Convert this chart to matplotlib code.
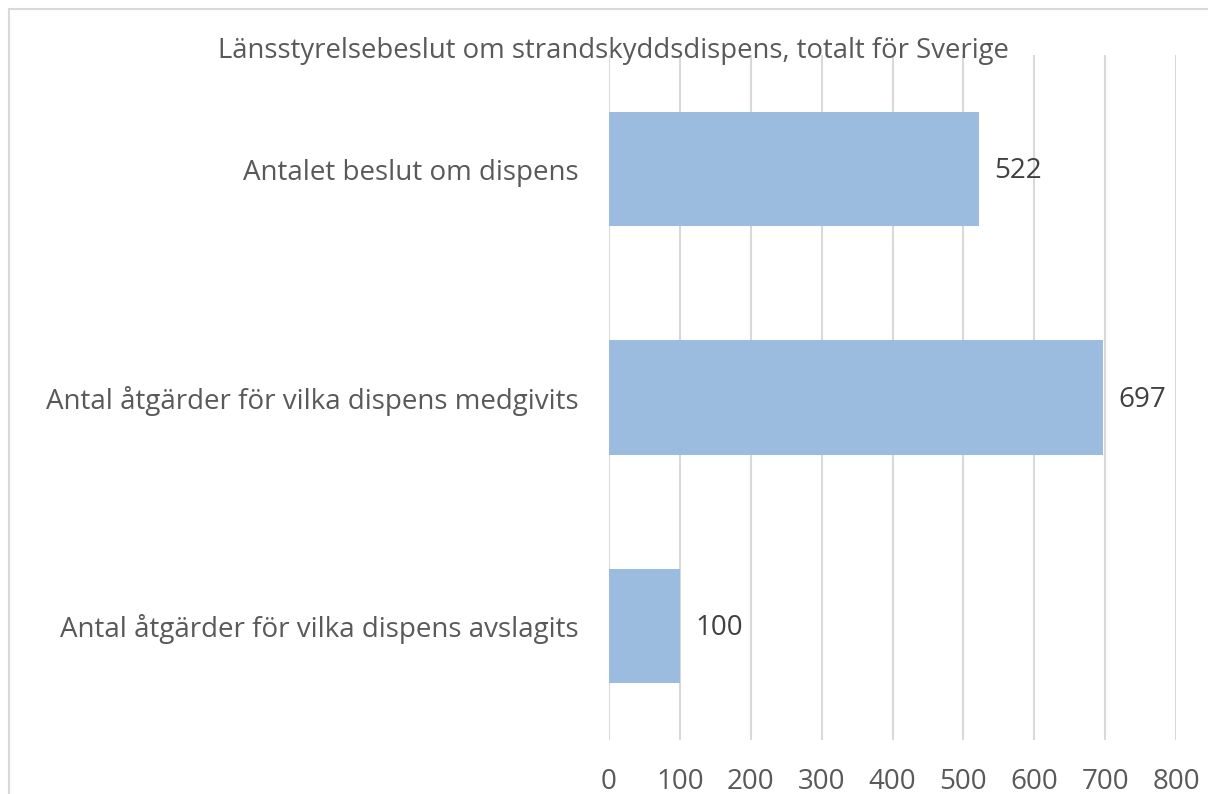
import matplotlib.pyplot as plt
from matplotlib.patches import Rectangle

plt.rcParams['font.family'] = ['Open Sans', 'DejaVu Sans']

categories = ["Antalet beslut om dispens",
              "Antal åtgärder för vilka dispens medgivits",
              "Antal åtgärder för vilka dispens avslagits"]
values = [522, 697, 100]
ticks = [0, 100, 200, 300, 400, 500, 600, 700, 800]
title = "Länsstyrelsebeslut om strandskyddsdispens, totalt för Sverige"

fig = plt.figure(figsize=(12.08, 7.94), dpi=100)
ax = fig.add_axes([609 / 1208, 1 - 740 / 794, (1176 - 609) / 1208, (740 - 55) / 794])

pos = list(range(len(categories)))
ax.barh(pos, values, height=0.5, color="#9BBBDF", zorder=3)
for p, v in zip(pos, values):
    ax.text(v + 22, p + 0.01, str(v), va="center", ha="left", fontsize=20, color="#404040")

ax.set_ylim(2.5, -0.5)
ax.set_xlim(0, 800)
ax.set_xticks(ticks)
ax.set_xticklabels([str(t) for t in ticks], fontsize=20, color="#595959")
ax.set_yticks(pos)
ax.set_yticklabels(categories, fontsize=20, color="#595959")
ax.tick_params(axis="both", length=0)
ax.tick_params(axis="x", pad=20)
ax.tick_params(axis="y", pad=22)
ax.grid(axis="x", color="#D9D9D9", linewidth=1.5, zorder=0)
for s in ax.spines.values():
    s.set_visible(False)

fig.text(613 / 1208, 1 - 51 / 794, title, ha="center", va="center", fontsize=19.8, color="#595959")

fig.patches.append(Rectangle((9 / 1208, -0.05), 1.1, 1 - 9 / 794 + 0.05, transform=fig.transFigure,
                             fill=False, edgecolor="#D9D9D9", linewidth=1.5))

fig.savefig("out.png", dpi=100)
